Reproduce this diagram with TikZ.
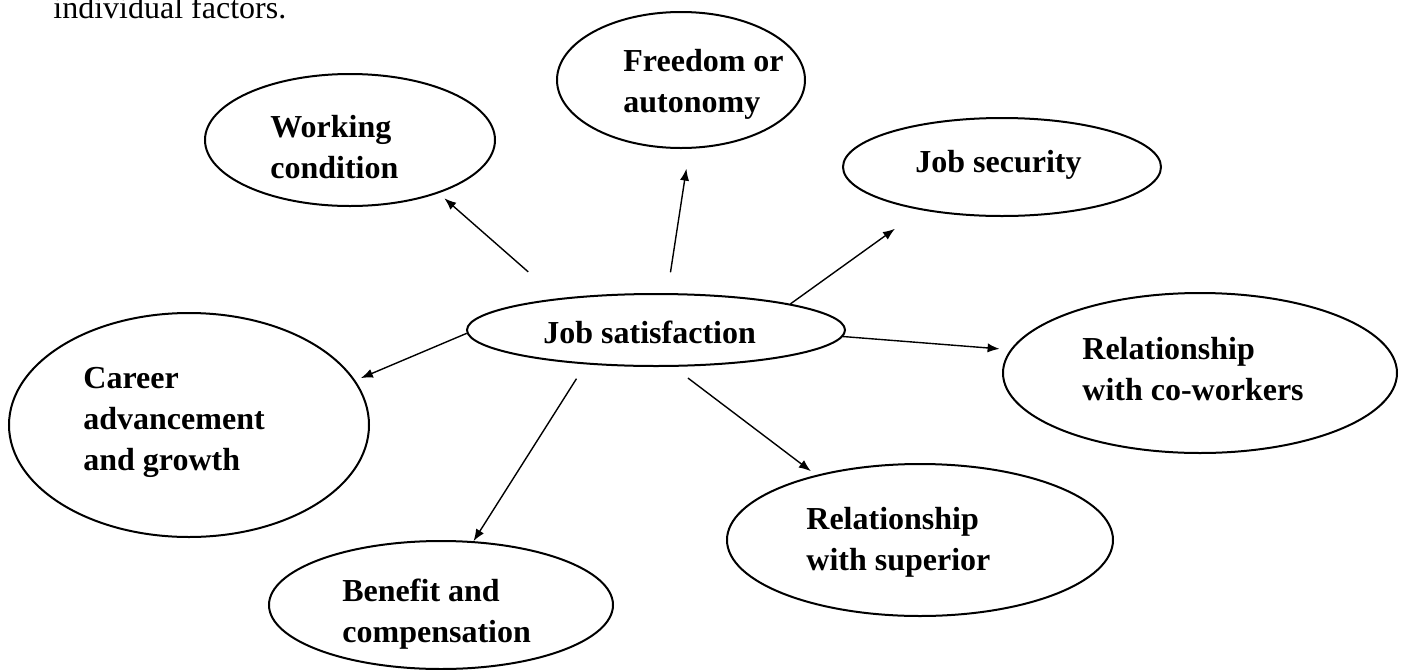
\documentclass[tikz,border=0pt]{standalone}
\usepackage{fontspec}
\setmainfont{Liberation Serif}
\usetikzlibrary{shapes.geometric, arrows.meta}

\tikzset{
  bubble/.style={draw, ellipse, line width=1pt, inner sep=0pt},
  tag/.style={font=\fontsize{16}{20.5}\selectfont\bfseries, align=left,
              anchor=base west, inner sep=0pt},
  arr/.style={-{Latex[length=6pt,width=4.6pt]}, line width=0.7pt}
}

\begin{document}
\begin{tikzpicture}[x=0.5pt, y=-0.5pt]
  \path[use as bounding box] (0,0) rectangle (1405,670);

  \node[tag, font=\fontsize{16}{20.5}\selectfont] (intro) at (53,18) {individual factors.};

  % the bubbles
  \node[bubble, minimum width=189pt, minimum height=36pt]  (sat)    at (656,330)  {};
  \node[bubble, minimum width=145pt, minimum height=66pt]  (work)   at (350,140)  {};
  \node[bubble, minimum width=124pt, minimum height=68pt]  (free)   at (681,80)   {};
  \node[bubble, minimum width=159pt, minimum height=49pt]  (secu)   at (1002,167) {};
  \node[bubble, minimum width=180pt, minimum height=112pt] (career) at (189,425)  {};
  \node[bubble, minimum width=197pt, minimum height=80pt]  (cowk)   at (1200,373) {};
  \node[bubble, minimum width=193pt, minimum height=76pt]  (sup)    at (920,540)  {};
  \node[bubble, minimum width=172pt, minimum height=64pt]  (ben)    at (441,605)  {};

  % their texts (base = last line)
  \node[tag] (sat-t)    at (543,343)  {Job satisfaction};
  \node[tag] (work-t)   at (270,178)  {Working\\condition};
  \node[tag] (free-t)   at (623,112)  {Freedom or\\autonomy};
  \node[tag] (secu-t)   at (915,172)  {Job security};
  \node[tag] (career-t) at (83,470)   {Career\\advancement\\and growth};
  \node[tag] (cowk-t)   at (1082,400) {Relationship\\with co-workers};
  \node[tag] (sup-t)    at (806,570)  {Relationship\\with superior};
  \node[tag] (ben-t)    at (342,642)  {Benefit and\\compensation};

  \draw[arr, shorten <=20pt, shorten >=3.8pt]  (sat.162.8) -- (work.-31.6);
  \draw[arr, shorten <=10.5pt, shorten >=10pt] (sat.73.3)  -- (free.-83.3);
  \draw[arr, shorten >=16pt]                   (sat.11.3)  -- (secu.208.6);
  \draw[arr, shorten >=5.4pt]                  (sat.-2)    -- (cowk.173.4);
  \draw[arr, shorten >=3pt]                    (sat.181.2) -- (career.15.1);
  \draw[arr, shorten <=9.25pt, shorten >=3.2pt] (sat.-65.6) -- (sup.148.1);
  \draw[arr, shorten <=8.5pt]                  (sat.206.4) -- (ben.63.4);
\end{tikzpicture}
\end{document}
